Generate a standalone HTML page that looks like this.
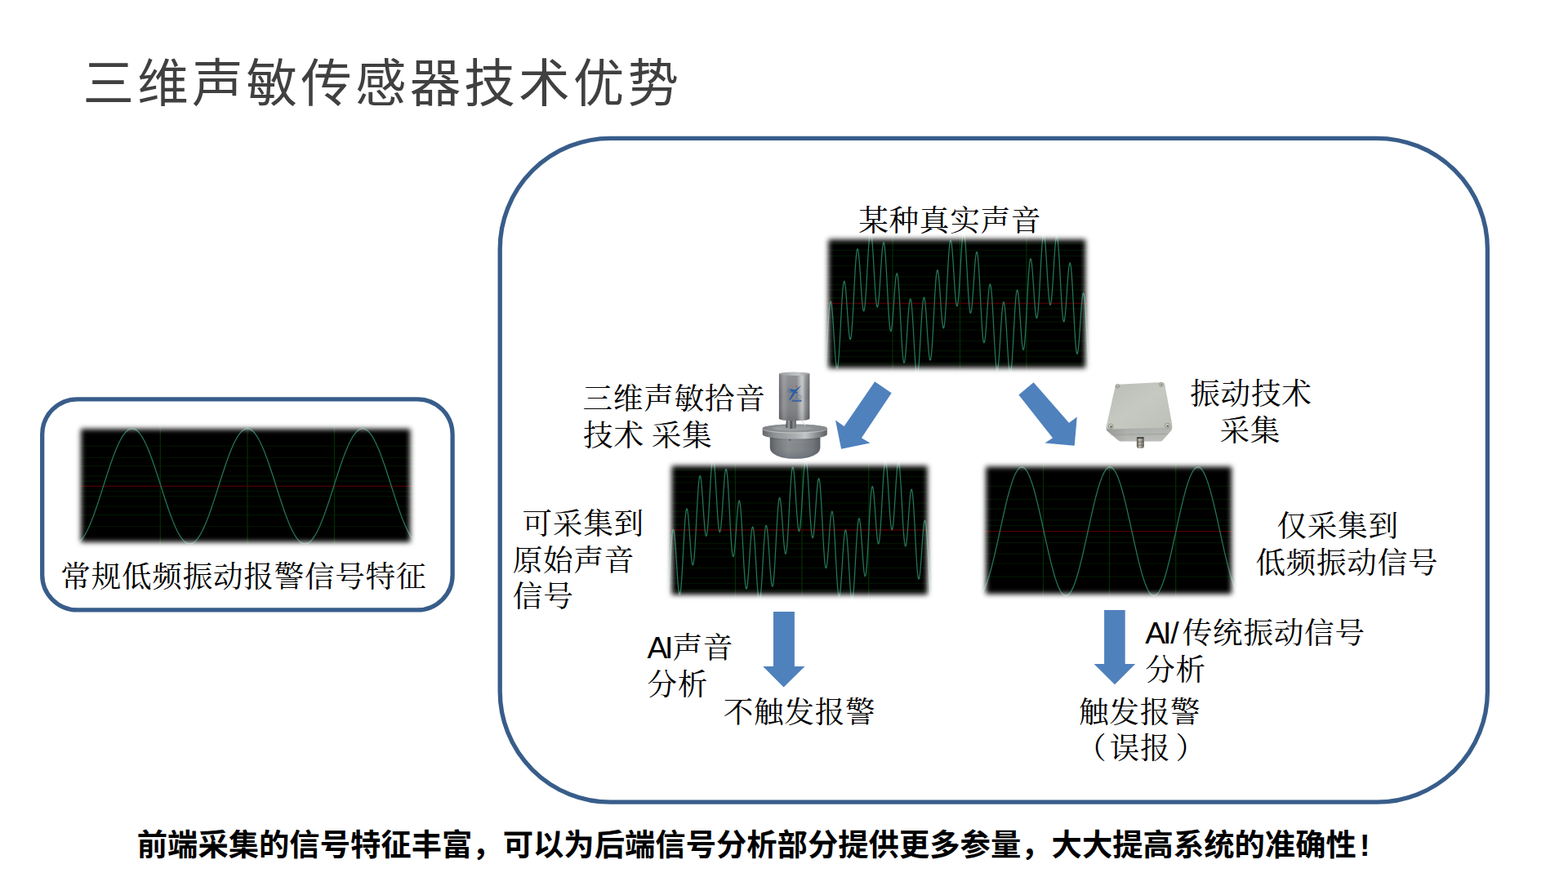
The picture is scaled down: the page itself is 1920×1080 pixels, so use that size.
<!DOCTYPE html>
<html lang="zh-CN"><head><meta charset="utf-8"><title>三维声敏传感器技术优势</title>
<style>
html,body{margin:0;padding:0;background:#fff}
body{width:1920px;height:1080px;position:relative;overflow:hidden;font-family:"Liberation Sans",sans-serif}
svg{position:absolute;left:0;top:0;display:block}
.t{position:absolute;white-space:pre;line-height:1;color:transparent;overflow:hidden;height:1em}
.s{font-family:"Liberation Serif","Noto Serif CJK SC",serif}
.l{font-family:"Liberation Sans","Noto Sans CJK SC",sans-serif;letter-spacing:2px}
.b{font-family:"Liberation Sans","Noto Sans CJK SC",sans-serif;font-weight:bold}
.st{font-family:"Liberation Serif","Noto Serif CJK SC",serif;font-size:36.58px;letter-spacing:0.75px;fill:#000}
.la{font-family:"Liberation Sans","Noto Sans CJK SC",sans-serif;font-size:37.33px;letter-spacing:0}
</style></head><body>
<svg width="1920" height="1080" viewBox="0 0 1920 1080"><defs>
<filter id="soft" x="-5%" y="-5%" width="110%" height="110%"><feGaussianBlur stdDeviation=".45"/></filter>
<linearGradient id="gCyl" x1="0" x2="1" y1="0" y2="0">
 <stop offset="0" stop-color="#5a5d60"/><stop offset=".06" stop-color="#787a7e"/><stop offset=".16" stop-color="#939598"/>
 <stop offset=".32" stop-color="#808285"/><stop offset=".58" stop-color="#828588"/><stop offset=".7" stop-color="#b5b7b8"/><stop offset=".77" stop-color="#c1c2c3"/>
 <stop offset=".86" stop-color="#8c8f92"/><stop offset=".95" stop-color="#707276"/><stop offset="1" stop-color="#5c5e62"/></linearGradient>
<linearGradient id="gCylV" x1="0" x2="0" y1="0" y2="1"><stop offset="0" stop-color="#fff" stop-opacity=".12"/><stop offset=".5" stop-color="#fff" stop-opacity="0"/><stop offset="1" stop-color="#000" stop-opacity=".14"/></linearGradient>
<linearGradient id="gBodyV" x1="0" x2="0" y1="0" y2="1"><stop offset="0" stop-color="#000" stop-opacity=".22"/><stop offset=".3" stop-color="#000" stop-opacity="0"/><stop offset=".65" stop-color="#4a5868" stop-opacity=".05"/><stop offset="1" stop-color="#4a5868" stop-opacity=".4"/></linearGradient>
<linearGradient id="gCylTop" x1="0" x2="1"><stop offset="0" stop-color="#9a9da0"/><stop offset=".65" stop-color="#c4c6c8"/><stop offset="1" stop-color="#909396"/></linearGradient>
<linearGradient id="gNeck" x1="0" x2="1"><stop offset="0" stop-color="#3e4144"/><stop offset=".3" stop-color="#9fa2a5"/><stop offset=".5" stop-color="#4c4f52"/><stop offset=".75" stop-color="#8a8d90"/><stop offset="1" stop-color="#55585b"/></linearGradient>
<linearGradient id="gTop" x1="0" x2="1"><stop offset="0" stop-color="#808285"/><stop offset=".45" stop-color="#989b9d"/><stop offset="1" stop-color="#86898c"/></linearGradient>
<linearGradient id="gRim" x1="0" x2="1"><stop offset="0" stop-color="#64676a"/><stop offset=".2" stop-color="#929598"/><stop offset=".5" stop-color="#aaadaf"/><stop offset=".66" stop-color="#c3c5c6"/><stop offset=".85" stop-color="#86898c"/><stop offset="1" stop-color="#5f6266"/></linearGradient>
<linearGradient id="gBody" x1="0" x2="1"><stop offset="0" stop-color="#5a5e61"/><stop offset=".12" stop-color="#73767a"/><stop offset=".35" stop-color="#8d9092"/><stop offset=".6" stop-color="#85888b"/><stop offset=".85" stop-color="#74777b"/><stop offset="1" stop-color="#5b5f63"/></linearGradient>
<linearGradient id="gFace" x1="0" x2="1" y1="0" y2="1"><stop offset="0" stop-color="#babdb5"/><stop offset=".5" stop-color="#c6c9c1"/><stop offset="1" stop-color="#bcbfb7"/></linearGradient>
<linearGradient id="gSide" x1="0" x2="0" y1="0" y2="1"><stop offset="0" stop-color="#aeb0ac"/><stop offset=".55" stop-color="#b6b8b4"/><stop offset="1" stop-color="#bfc1be"/></linearGradient>
<linearGradient id="gSideH" x1="0" x2="1"><stop offset="0" stop-color="#000" stop-opacity=".16"/><stop offset=".3" stop-color="#000" stop-opacity=".03"/><stop offset="1" stop-color="#000" stop-opacity="0"/></linearGradient>
<linearGradient id="gConn" x1="0" x2="1"><stop offset="0" stop-color="#56544e"/><stop offset=".4" stop-color="#c2beb2"/><stop offset=".7" stop-color="#8e8b82"/><stop offset="1" stop-color="#5c5a54"/></linearGradient>
<mask id="wm1" maskUnits="userSpaceOnUse" x="87.0" y="513.2" width="427.3" height="162.6"><rect x="99.0" y="525.2" width="403.3" height="138.6" fill="#fff" filter="url(#sb1)"/></mask><filter id="sb1" x="-10%" y="-10%" width="120%" height="120%"><feGaussianBlur stdDeviation="3.30"/></filter><mask id="wm2" maskUnits="userSpaceOnUse" x="1002.4" y="281.3" width="338.8" height="181.2"><rect x="1014.4" y="293.3" width="314.8" height="157.2" fill="#fff" filter="url(#sb2)"/></mask><filter id="sb2" x="-10%" y="-10%" width="120%" height="120%"><feGaussianBlur stdDeviation="3.30"/></filter><mask id="wm3" maskUnits="userSpaceOnUse" x="810.5" y="558.5" width="337.2" height="181.6"><rect x="822.5" y="570.5" width="313.2" height="157.6" fill="#fff" filter="url(#sb3)"/></mask><filter id="sb3" x="-10%" y="-10%" width="120%" height="120%"><feGaussianBlur stdDeviation="3.30"/></filter><mask id="wm4" maskUnits="userSpaceOnUse" x="1195.2" y="559.5" width="324.8" height="179.8"><rect x="1207.2" y="571.5" width="300.8" height="155.8" fill="#fff" filter="url(#sb4)"/></mask><filter id="sb4" x="-10%" y="-10%" width="120%" height="120%"><feGaussianBlur stdDeviation="3.30"/></filter></defs>
<rect x="612.2" y="169.3" width="1209.2" height="812.9" rx="135.5" ry="135.5" fill="none" stroke="#385d8a" stroke-width="5.3"/>
<rect x="51.7" y="488.9" width="502.4" height="258.0" rx="43" ry="43" fill="none" stroke="#385d8a" stroke-width="5.3"/><g mask="url(#wm1)"><rect x="91.0" y="517.2" width="419.3" height="154.6" fill="#000"/><path d="M91.0 589.2H510.3 M91.0 601.6H510.3 M91.0 583.1H510.3 M91.0 607.7H510.3 M91.0 570.7H510.3 M91.0 620.1H510.3 M91.0 560.3H510.3 M91.0 630.5H510.3 M91.0 546.2H510.3 M91.0 644.6H510.3" stroke="#021302" stroke-width="1.3" fill="none"/><path d="M196.3 517.2V671.8 M303.0 517.2V671.8 M409.5 517.2V671.8" stroke="#022c02" stroke-width="1.3" fill="none"/><path d="M91.0 595.4H510.3" stroke="#4c0000" stroke-width="1.3" fill="none"/><path d="M91.0 665.9 L91.5 665.9 L92.0 665.9 L92.5 665.8 L93.0 665.7 L93.5 665.5 L94.0 665.4 L94.5 665.2 L95.0 664.9 L95.5 664.6 L96.0 664.3 L96.5 664.0 L97.0 663.6 L97.5 663.2 L98.0 662.7 L98.5 662.3 L99.0 661.7 L99.5 661.2 L100.0 660.6 L100.5 660.0 L101.0 659.4 L101.5 658.7 L102.0 658.0 L102.5 657.2 L103.0 656.5 L103.5 655.7 L104.0 654.8 L104.5 654.0 L105.0 653.1 L105.5 652.2 L106.0 651.2 L106.5 650.3 L107.0 649.3 L107.5 648.2 L108.0 647.2 L108.5 646.1 L109.0 645.0 L109.5 643.9 L110.0 642.7 L110.5 641.5 L111.0 640.3 L111.5 639.1 L112.0 637.9 L112.5 636.6 L113.0 635.3 L113.5 634.0 L114.0 632.7 L114.5 631.4 L115.0 630.0 L115.5 628.6 L116.0 627.2 L116.5 625.8 L117.0 624.4 L117.5 623.0 L118.0 621.5 L118.5 620.1 L119.0 618.6 L119.5 617.1 L120.0 615.6 L120.5 614.1 L121.0 612.6 L121.5 611.0 L122.0 609.5 L122.5 608.0 L123.0 606.4 L123.5 604.9 L124.0 603.3 L124.5 601.7 L125.0 600.2 L125.5 598.6 L126.0 597.0 L126.5 595.5 L127.0 593.9 L127.5 592.3 L128.0 590.8 L128.5 589.2 L129.0 587.6 L129.5 586.1 L130.0 584.5 L130.5 583.0 L131.0 581.4 L131.5 579.9 L132.0 578.4 L132.5 576.9 L133.0 575.4 L133.5 573.9 L134.0 572.4 L134.5 570.9 L135.0 569.4 L135.5 568.0 L136.0 566.5 L136.5 565.1 L137.0 563.7 L137.5 562.3 L138.0 560.9 L138.5 559.6 L139.0 558.2 L139.5 556.9 L140.0 555.6 L140.5 554.3 L141.0 553.0 L141.5 551.8 L142.0 550.6 L142.5 549.4 L143.0 548.2 L143.5 547.0 L144.0 545.9 L144.5 544.8 L145.0 543.7 L145.5 542.7 L146.0 541.6 L146.5 540.6 L147.0 539.7 L147.5 538.7 L148.0 537.8 L148.5 536.9 L149.0 536.0 L149.5 535.2 L150.0 534.4 L150.5 533.6 L151.0 532.9 L151.5 532.2 L152.0 531.5 L152.5 530.9 L153.0 530.2 L153.5 529.7 L154.0 529.1 L154.5 528.6 L155.0 528.1 L155.5 527.7 L156.0 527.2 L156.5 526.9 L157.0 526.5 L157.5 526.2 L158.0 525.9 L158.5 525.7 L159.0 525.4 L159.5 525.3 L160.0 525.1 L160.5 525.0 L161.0 524.9 L161.5 524.9 L162.0 524.9 L162.5 524.9 L163.0 525.0 L163.5 525.1 L164.0 525.2 L164.5 525.4 L165.0 525.6 L165.5 525.9 L166.0 526.1 L166.5 526.4 L167.0 526.8 L167.5 527.2 L168.0 527.6 L168.5 528.0 L169.0 528.5 L169.5 529.0 L170.0 529.5 L170.5 530.1 L171.0 530.7 L171.5 531.4 L172.0 532.0 L172.5 532.8 L173.0 533.5 L173.5 534.3 L174.0 535.1 L174.5 535.9 L175.0 536.7 L175.5 537.6 L176.0 538.5 L176.5 539.5 L177.0 540.4 L177.5 541.4 L178.0 542.5 L178.5 543.5 L179.0 544.6 L179.5 545.7 L180.0 546.8 L180.5 548.0 L181.0 549.1 L181.5 550.3 L182.0 551.5 L182.5 552.8 L183.0 554.1 L183.5 555.3 L184.0 556.6 L184.5 558.0 L185.0 559.3 L185.5 560.6 L186.0 562.0 L186.5 563.4 L187.0 564.8 L187.5 566.2 L188.0 567.7 L188.5 569.1 L189.0 570.6 L189.5 572.1 L190.0 573.6 L190.5 575.1 L191.0 576.6 L191.5 578.1 L192.0 579.6 L192.5 581.1 L193.0 582.7 L193.5 584.2 L194.0 585.8 L194.5 587.3 L195.0 588.9 L195.5 590.5 L196.0 592.0 L196.5 593.6 L197.0 595.2 L197.5 596.7 L198.0 598.3 L198.5 599.9 L199.0 601.4 L199.5 603.0 L200.0 604.6 L200.5 606.1 L201.0 607.7 L201.5 609.2 L202.0 610.7 L202.5 612.3 L203.0 613.8 L203.5 615.3 L204.0 616.8 L204.5 618.3 L205.0 619.8 L205.5 621.2 L206.0 622.7 L206.5 624.1 L207.0 625.6 L207.5 627.0 L208.0 628.4 L208.5 629.7 L209.0 631.1 L209.5 632.4 L210.0 633.8 L210.5 635.1 L211.0 636.4 L211.5 637.6 L212.0 638.9 L212.5 640.1 L213.0 641.3 L213.5 642.5 L214.0 643.6 L214.5 644.8 L215.0 645.9 L215.5 647.0 L216.0 648.0 L216.5 649.1 L217.0 650.1 L217.5 651.0 L218.0 652.0 L218.5 652.9 L219.0 653.8 L219.5 654.7 L220.0 655.5 L220.5 656.3 L221.0 657.1 L221.5 657.8 L222.0 658.5 L222.5 659.2 L223.0 659.9 L223.5 660.5 L224.0 661.1 L224.5 661.6 L225.0 662.2 L225.5 662.6 L226.0 663.1 L226.5 663.5 L227.0 663.9 L227.5 664.3 L228.0 664.6 L228.5 664.9 L229.0 665.1 L229.5 665.3 L230.0 665.5 L230.5 665.7 L231.0 665.8 L231.5 665.8 L232.0 665.9 L232.5 665.9 L233.0 665.9 L233.5 665.8 L234.0 665.7 L234.5 665.6 L235.0 665.4 L235.5 665.2 L236.0 665.0 L236.5 664.7 L237.0 664.4 L237.5 664.1 L238.0 663.7 L238.5 663.3 L239.0 662.8 L239.5 662.4 L240.0 661.8 L240.5 661.3 L241.0 660.7 L241.5 660.1 L242.0 659.5 L242.5 658.8 L243.0 658.1 L243.5 657.4 L244.0 656.6 L244.5 655.8 L245.0 655.0 L245.5 654.2 L246.0 653.3 L246.5 652.4 L247.0 651.4 L247.5 650.5 L248.0 649.5 L248.5 648.4 L249.0 647.4 L249.5 646.3 L250.0 645.2 L250.5 644.1 L251.0 643.0 L251.5 641.8 L252.0 640.6 L252.5 639.4 L253.0 638.1 L253.5 636.9 L254.0 635.6 L254.5 634.3 L255.0 633.0 L255.5 631.6 L256.0 630.3 L256.5 628.9 L257.0 627.5 L257.5 626.1 L258.0 624.7 L258.5 623.3 L259.0 621.8 L259.5 620.4 L260.0 618.9 L260.5 617.4 L261.0 615.9 L261.5 614.4 L262.0 612.9 L262.5 611.3 L263.0 609.8 L263.5 608.3 L264.0 606.7 L264.5 605.2 L265.0 603.6 L265.5 602.1 L266.0 600.5 L266.5 598.9 L267.0 597.4 L267.5 595.8 L268.0 594.2 L268.5 592.7 L269.0 591.1 L269.5 589.5 L270.0 588.0 L270.5 586.4 L271.0 584.8 L271.5 583.3 L272.0 581.8 L272.5 580.2 L273.0 578.7 L273.5 577.2 L274.0 575.7 L274.5 574.2 L275.0 572.7 L275.5 571.2 L276.0 569.7 L276.5 568.3 L277.0 566.8 L277.5 565.4 L278.0 564.0 L278.5 562.6 L279.0 561.2 L279.5 559.8 L280.0 558.5 L280.5 557.2 L281.0 555.8 L281.5 554.6 L282.0 553.3 L282.5 552.0 L283.0 550.8 L283.5 549.6 L284.0 548.4 L284.5 547.3 L285.0 546.1 L285.5 545.0 L286.0 543.9 L286.5 542.9 L287.0 541.8 L287.5 540.8 L288.0 539.9 L288.5 538.9 L289.0 538.0 L289.5 537.1 L290.0 536.2 L290.5 535.4 L291.0 534.6 L291.5 533.8 L292.0 533.0 L292.5 532.3 L293.0 531.6 L293.5 531.0 L294.0 530.4 L294.5 529.8 L295.0 529.2 L295.5 528.7 L296.0 528.2 L296.5 527.7 L297.0 527.3 L297.5 526.9 L298.0 526.6 L298.5 526.2 L299.0 526.0 L299.5 525.7 L300.0 525.5 L300.5 525.3 L301.0 525.2 L301.5 525.0 L302.0 525.0 L302.5 524.9 L303.0 524.9 L303.5 524.9 L304.0 525.0 L304.5 525.1 L305.0 525.2 L305.5 525.4 L306.0 525.6 L306.5 525.8 L307.0 526.1 L307.5 526.4 L308.0 526.7 L308.5 527.1 L309.0 527.5 L309.5 527.9 L310.0 528.4 L310.5 528.9 L311.0 529.4 L311.5 530.0 L312.0 530.6 L312.5 531.2 L313.0 531.9 L313.5 532.6 L314.0 533.3 L314.5 534.1 L315.0 534.9 L315.5 535.7 L316.0 536.6 L316.5 537.4 L317.0 538.3 L317.5 539.3 L318.0 540.2 L318.5 541.2 L319.0 542.3 L319.5 543.3 L320.0 544.4 L320.5 545.5 L321.0 546.6 L321.5 547.7 L322.0 548.9 L322.5 550.1 L323.0 551.3 L323.5 552.5 L324.0 553.8 L324.5 555.1 L325.0 556.4 L325.5 557.7 L326.0 559.0 L326.5 560.4 L327.0 561.7 L327.5 563.1 L328.0 564.5 L328.5 566.0 L329.0 567.4 L329.5 568.8 L330.0 570.3 L330.5 571.8 L331.0 573.3 L331.5 574.8 L332.0 576.3 L332.5 577.8 L333.0 579.3 L333.5 580.8 L334.0 582.4 L334.5 583.9 L335.0 585.5 L335.5 587.0 L336.0 588.6 L336.5 590.1 L337.0 591.7 L337.5 593.3 L338.0 594.9 L338.5 596.4 L339.0 598.0 L339.5 599.6 L340.0 601.1 L340.5 602.7 L341.0 604.2 L341.5 605.8 L342.0 607.4 L342.5 608.9 L343.0 610.4 L343.5 612.0 L344.0 613.5 L344.5 615.0 L345.0 616.5 L345.5 618.0 L346.0 619.5 L346.5 620.9 L347.0 622.4 L347.5 623.8 L348.0 625.3 L348.5 626.7 L349.0 628.1 L349.5 629.5 L350.0 630.8 L350.5 632.2 L351.0 633.5 L351.5 634.8 L352.0 636.1 L352.5 637.4 L353.0 638.6 L353.5 639.9 L354.0 641.1 L354.5 642.3 L355.0 643.4 L355.5 644.6 L356.0 645.7 L356.5 646.8 L357.0 647.8 L357.5 648.9 L358.0 649.9 L358.5 650.8 L359.0 651.8 L359.5 652.7 L360.0 653.6 L360.5 654.5 L361.0 655.3 L361.5 656.2 L362.0 656.9 L362.5 657.7 L363.0 658.4 L363.5 659.1 L364.0 659.7 L364.5 660.4 L365.0 661.0 L365.5 661.5 L366.0 662.1 L366.5 662.6 L367.0 663.0 L367.5 663.4 L368.0 663.8 L368.5 664.2 L369.0 664.5 L369.5 664.8 L370.0 665.1 L370.5 665.3 L371.0 665.5 L371.5 665.6 L372.0 665.8 L372.5 665.8 L373.0 665.9 L373.5 665.9 L374.0 665.9 L374.5 665.8 L375.0 665.7 L375.5 665.6 L376.0 665.4 L376.5 665.3 L377.0 665.0 L377.5 664.8 L378.0 664.5 L378.5 664.1 L379.0 663.8 L379.5 663.4 L380.0 662.9 L380.5 662.5 L381.0 662.0 L381.5 661.4 L382.0 660.9 L382.5 660.3 L383.0 659.6 L383.5 659.0 L384.0 658.3 L384.5 657.5 L385.0 656.8 L385.5 656.0 L386.0 655.2 L386.5 654.3 L387.0 653.5 L387.5 652.5 L388.0 651.6 L388.5 650.7 L389.0 649.7 L389.5 648.6 L390.0 647.6 L390.5 646.5 L391.0 645.4 L391.5 644.3 L392.0 643.2 L392.5 642.0 L393.0 640.8 L393.5 639.6 L394.0 638.4 L394.5 637.1 L395.0 635.9 L395.5 634.6 L396.0 633.2 L396.5 631.9 L397.0 630.6 L397.5 629.2 L398.0 627.8 L398.5 626.4 L399.0 625.0 L399.5 623.6 L400.0 622.1 L400.5 620.6 L401.0 619.2 L401.5 617.7 L402.0 616.2 L402.5 614.7 L403.0 613.2 L403.5 611.7 L404.0 610.1 L404.5 608.6 L405.0 607.0 L405.5 605.5 L406.0 603.9 L406.5 602.4 L407.0 600.8 L407.5 599.2 L408.0 597.7 L408.5 596.1 L409.0 594.5 L409.5 593.0 L410.0 591.4 L410.5 589.8 L411.0 588.3 L411.5 586.7 L412.0 585.2 L412.5 583.6 L413.0 582.1 L413.5 580.5 L414.0 579.0 L414.5 577.5 L415.0 576.0 L415.5 574.5 L416.0 573.0 L416.5 571.5 L417.0 570.0 L417.5 568.5 L418.0 567.1 L418.5 565.7 L419.0 564.3 L419.5 562.9 L420.0 561.5 L420.5 560.1 L421.0 558.8 L421.5 557.4 L422.0 556.1 L422.5 554.8 L423.0 553.5 L423.5 552.3 L424.0 551.1 L424.5 549.9 L425.0 548.7 L425.5 547.5 L426.0 546.4 L426.5 545.2 L427.0 544.2 L427.5 543.1 L428.0 542.0 L428.5 541.0 L429.0 540.1 L429.5 539.1 L430.0 538.2 L430.5 537.3 L431.0 536.4 L431.5 535.5 L432.0 534.7 L432.5 533.9 L433.0 533.2 L433.5 532.5 L434.0 531.8 L434.5 531.1 L435.0 530.5 L435.5 529.9 L436.0 529.3 L436.5 528.8 L437.0 528.3 L437.5 527.8 L438.0 527.4 L438.5 527.0 L439.0 526.6 L439.5 526.3 L440.0 526.0 L440.5 525.8 L441.0 525.5 L441.5 525.3 L442.0 525.2 L442.5 525.1 L443.0 525.0 L443.5 524.9 L444.0 524.9 L444.5 524.9 L445.0 525.0 L445.5 525.1 L446.0 525.2 L446.5 525.3 L447.0 525.5 L447.5 525.8 L448.0 526.0 L448.5 526.3 L449.0 526.6 L449.5 527.0 L450.0 527.4 L450.5 527.8 L451.0 528.3 L451.5 528.8 L452.0 529.3 L452.5 529.9 L453.0 530.5 L453.5 531.1 L454.0 531.8 L454.5 532.5 L455.0 533.2 L455.5 533.9 L456.0 534.7 L456.5 535.5 L457.0 536.4 L457.5 537.3 L458.0 538.2 L458.5 539.1 L459.0 540.1 L459.5 541.0 L460.0 542.0 L460.5 543.1 L461.0 544.2 L461.5 545.2 L462.0 546.4 L462.5 547.5 L463.0 548.7 L463.5 549.9 L464.0 551.1 L464.5 552.3 L465.0 553.5 L465.5 554.8 L466.0 556.1 L466.5 557.4 L467.0 558.8 L467.5 560.1 L468.0 561.5 L468.5 562.9 L469.0 564.3 L469.5 565.7 L470.0 567.1 L470.5 568.5 L471.0 570.0 L471.5 571.5 L472.0 573.0 L472.5 574.5 L473.0 576.0 L473.5 577.5 L474.0 579.0 L474.5 580.5 L475.0 582.1 L475.5 583.6 L476.0 585.2 L476.5 586.7 L477.0 588.3 L477.5 589.8 L478.0 591.4 L478.5 593.0 L479.0 594.5 L479.5 596.1 L480.0 597.7 L480.5 599.2 L481.0 600.8 L481.5 602.4 L482.0 603.9 L482.5 605.5 L483.0 607.0 L483.5 608.6 L484.0 610.1 L484.5 611.7 L485.0 613.2 L485.5 614.7 L486.0 616.2 L486.5 617.7 L487.0 619.2 L487.5 620.6 L488.0 622.1 L488.5 623.6 L489.0 625.0 L489.5 626.4 L490.0 627.8 L490.5 629.2 L491.0 630.6 L491.5 631.9 L492.0 633.2 L492.5 634.6 L493.0 635.9 L493.5 637.1 L494.0 638.4 L494.5 639.6 L495.0 640.8 L495.5 642.0 L496.0 643.2 L496.5 644.3 L497.0 645.4 L497.5 646.5 L498.0 647.6 L498.5 648.6 L499.0 649.7 L499.5 650.7 L500.0 651.6 L500.5 652.5 L501.0 653.5 L501.5 654.3 L502.0 655.2 L502.5 656.0 L503.0 656.8 L503.5 657.5 L504.0 658.3 L504.5 659.0 L505.0 659.6 L505.5 660.3 L506.0 660.9 L506.5 661.4 L507.0 662.0 L507.5 662.5 L508.0 662.9 L508.5 663.4 L509.0 663.8 L509.5 664.1 L510.0 664.5" stroke="#24775a" stroke-width="1.25" fill="none" stroke-linejoin="round"/></g><g mask="url(#wm2)"><rect x="1006.4" y="285.3" width="330.8" height="173.2" fill="#000"/><path d="M1006.4 298.4H1337.2 M1006.4 444.6H1337.2 M1006.4 306.3H1337.2 M1006.4 436.7H1337.2 M1006.4 313.3H1337.2 M1006.4 429.7H1337.2 M1006.4 325.4H1337.2 M1006.4 417.6H1337.2 M1006.4 338.8H1337.2 M1006.4 404.2H1337.2 M1006.4 348.7H1337.2 M1006.4 394.3H1337.2 M1006.4 355.0H1337.2 M1006.4 388.0H1337.2 M1006.4 365.0H1337.2 M1006.4 378.0H1337.2" stroke="#021302" stroke-width="1.3" fill="none"/><path d="M1093.0 285.3V458.5 M1175.5 285.3V458.5 M1257.0 285.3V458.5" stroke="#022c02" stroke-width="1.3" fill="none"/><path d="M1006.4 371.5H1337.2" stroke="#4c0000" stroke-width="1.3" fill="none"/><path d="M1006.4 436.4 L1006.9 443.7 L1007.4 449.7 L1007.9 454.4 L1008.4 457.4 L1008.9 458.8 L1009.4 458.4 L1009.9 456.4 L1010.4 452.8 L1010.9 447.7 L1011.4 441.4 L1011.9 434.0 L1012.4 425.9 L1012.9 417.3 L1013.4 408.7 L1013.9 400.2 L1014.4 392.3 L1014.9 385.1 L1015.4 379.1 L1015.9 374.3 L1016.4 371.0 L1016.9 369.3 L1017.4 369.2 L1017.9 370.8 L1018.4 373.9 L1018.9 378.5 L1019.4 384.3 L1019.9 391.1 L1020.4 398.7 L1020.9 406.7 L1021.4 414.9 L1021.9 422.9 L1022.4 430.5 L1022.9 437.2 L1023.4 442.8 L1023.9 447.2 L1024.4 450.1 L1024.9 451.3 L1025.4 450.9 L1025.9 448.8 L1026.4 445.0 L1026.9 439.6 L1027.4 432.9 L1027.9 425.0 L1028.4 416.3 L1028.9 406.9 L1029.4 397.2 L1029.9 387.6 L1030.4 378.3 L1030.9 369.6 L1031.4 361.9 L1031.9 355.4 L1032.4 350.2 L1032.9 346.6 L1033.4 344.6 L1033.9 344.3 L1034.4 345.7 L1034.9 348.5 L1035.4 352.8 L1035.9 358.2 L1036.4 364.6 L1036.9 371.7 L1037.4 379.1 L1037.9 386.5 L1038.4 393.7 L1038.9 400.3 L1039.4 406.0 L1039.9 410.6 L1040.4 413.8 L1040.9 415.5 L1041.4 415.6 L1041.9 414.0 L1042.4 410.8 L1042.9 405.9 L1043.4 399.6 L1043.9 392.1 L1044.4 383.5 L1044.9 374.1 L1045.4 364.4 L1045.9 354.4 L1046.4 344.7 L1046.9 335.5 L1047.4 327.0 L1047.9 319.7 L1048.4 313.6 L1048.9 309.0 L1049.4 306.1 L1049.9 304.8 L1050.4 305.2 L1050.9 307.3 L1051.4 310.9 L1051.9 315.8 L1052.4 321.9 L1052.9 328.8 L1053.4 336.3 L1053.9 344.1 L1054.4 351.8 L1054.9 359.2 L1055.4 365.8 L1055.9 371.5 L1056.4 376.1 L1056.9 379.2 L1057.4 380.8 L1057.9 380.7 L1058.4 379.0 L1058.9 375.7 L1059.4 370.9 L1059.9 364.8 L1060.4 357.5 L1060.9 349.3 L1061.4 340.4 L1061.9 331.3 L1062.4 322.2 L1062.9 313.5 L1063.4 305.3 L1063.9 298.2 L1064.4 292.2 L1064.9 287.6 L1065.4 284.6 L1065.9 283.3 L1066.4 283.6 L1066.9 285.7 L1067.4 289.4 L1067.9 294.5 L1068.4 301.0 L1068.9 308.4 L1069.4 316.7 L1069.9 325.4 L1070.4 334.3 L1070.9 343.0 L1071.4 351.2 L1071.9 358.6 L1072.4 365.0 L1072.9 370.1 L1073.4 373.7 L1073.9 375.8 L1074.4 376.2 L1074.9 375.0 L1075.4 372.3 L1075.9 368.1 L1076.4 362.5 L1076.9 356.0 L1077.4 348.7 L1077.9 340.8 L1078.4 332.8 L1078.9 324.9 L1079.4 317.5 L1079.9 310.9 L1080.4 305.3 L1080.9 300.9 L1081.4 298.1 L1081.9 296.8 L1082.4 297.2 L1082.9 299.3 L1083.4 303.1 L1083.9 308.4 L1084.4 315.1 L1084.9 323.0 L1085.4 331.8 L1085.9 341.3 L1086.4 351.1 L1086.9 360.9 L1087.4 370.3 L1087.9 379.1 L1088.4 387.1 L1088.9 393.8 L1089.4 399.2 L1089.9 403.0 L1090.4 405.2 L1090.9 405.8 L1091.4 404.7 L1091.9 402.0 L1092.4 398.0 L1092.9 392.7 L1093.4 386.4 L1093.9 379.4 L1094.4 372.1 L1094.9 364.6 L1095.4 357.4 L1095.9 350.8 L1096.4 344.9 L1096.9 340.2 L1097.4 336.9 L1097.9 335.0 L1098.4 334.7 L1098.9 336.1 L1099.4 339.2 L1099.9 343.8 L1100.4 350.0 L1100.9 357.3 L1101.4 365.8 L1101.9 375.0 L1102.4 384.7 L1102.9 394.6 L1103.4 404.3 L1103.9 413.5 L1104.4 421.9 L1104.9 429.3 L1105.4 435.4 L1105.9 440.0 L1106.4 443.0 L1106.9 444.3 L1107.4 444.0 L1107.9 441.9 L1108.4 438.4 L1108.9 433.4 L1109.4 427.4 L1109.9 420.4 L1110.4 412.7 L1110.9 404.8 L1111.4 396.9 L1111.9 389.4 L1112.4 382.5 L1112.9 376.5 L1113.4 371.7 L1113.9 368.2 L1114.4 366.3 L1114.9 366.0 L1115.4 367.4 L1115.9 370.3 L1116.4 374.8 L1116.9 380.6 L1117.4 387.7 L1117.9 395.6 L1118.4 404.2 L1118.9 413.1 L1119.4 422.0 L1119.9 430.6 L1120.4 438.6 L1120.9 445.7 L1121.4 451.6 L1121.9 456.1 L1122.4 459.1 L1122.9 460.4 L1123.4 460.0 L1123.9 457.9 L1124.4 454.2 L1124.9 449.0 L1125.4 442.4 L1125.9 434.8 L1126.4 426.4 L1126.9 417.6 L1127.4 408.5 L1127.9 399.6 L1128.4 391.1 L1128.9 383.4 L1129.4 376.7 L1129.9 371.3 L1130.4 367.3 L1130.9 364.9 L1131.4 364.1 L1131.9 364.9 L1132.4 367.4 L1132.9 371.3 L1133.4 376.5 L1133.9 382.8 L1134.4 389.9 L1134.9 397.5 L1135.4 405.4 L1135.9 413.1 L1136.4 420.4 L1136.9 427.0 L1137.4 432.6 L1137.9 436.9 L1138.4 439.8 L1138.9 441.1 L1139.4 440.7 L1139.9 438.7 L1140.4 434.9 L1140.9 429.7 L1141.4 423.0 L1141.9 415.1 L1142.4 406.2 L1142.9 396.7 L1143.4 386.9 L1143.9 377.0 L1144.4 367.4 L1144.9 358.5 L1145.4 350.4 L1145.9 343.4 L1146.4 337.9 L1146.9 333.8 L1147.4 331.4 L1147.9 330.6 L1148.4 331.6 L1148.9 334.0 L1149.4 338.0 L1149.9 343.1 L1150.4 349.3 L1150.9 356.2 L1151.4 363.6 L1151.9 371.0 L1152.4 378.3 L1152.9 385.0 L1153.4 391.0 L1153.9 395.8 L1154.4 399.4 L1154.9 401.4 L1155.4 401.9 L1155.9 400.7 L1156.4 397.9 L1156.9 393.5 L1157.4 387.6 L1157.9 380.4 L1158.4 372.1 L1158.9 363.1 L1159.4 353.5 L1159.9 343.7 L1160.4 334.1 L1160.9 325.0 L1161.4 316.5 L1161.9 309.2 L1162.4 303.1 L1162.9 298.4 L1163.4 295.4 L1163.9 294.0 L1164.4 294.4 L1164.9 296.4 L1165.4 299.9 L1165.9 304.9 L1166.4 311.0 L1166.9 318.1 L1167.4 325.9 L1167.9 333.9 L1168.4 342.0 L1168.9 349.8 L1169.4 356.9 L1169.9 363.2 L1170.4 368.3 L1170.9 372.1 L1171.4 374.4 L1171.9 375.0 L1172.4 374.0 L1172.9 371.4 L1173.4 367.3 L1173.9 361.8 L1174.4 355.1 L1174.9 347.4 L1175.4 339.1 L1175.9 330.4 L1176.4 321.7 L1176.9 313.2 L1177.4 305.4 L1177.9 298.4 L1178.4 292.5 L1178.9 288.1 L1179.4 285.2 L1179.9 283.9 L1180.4 284.3 L1180.9 286.4 L1181.4 290.2 L1181.9 295.5 L1182.4 302.1 L1182.9 309.8 L1183.4 318.3 L1183.9 327.3 L1184.4 336.6 L1184.9 345.7 L1185.4 354.5 L1185.9 362.4 L1186.4 369.4 L1186.9 375.2 L1187.4 379.5 L1187.9 382.2 L1188.4 383.4 L1188.9 382.8 L1189.4 380.7 L1189.9 377.1 L1190.4 372.2 L1190.9 366.1 L1191.4 359.2 L1191.9 351.8 L1192.4 344.1 L1192.9 336.4 L1193.4 329.2 L1193.9 322.6 L1194.4 317.1 L1194.9 312.7 L1195.4 309.8 L1195.9 308.4 L1196.4 308.7 L1196.9 310.7 L1197.4 314.4 L1197.9 319.6 L1198.4 326.2 L1198.9 334.1 L1199.4 342.9 L1199.9 352.4 L1200.4 362.3 L1200.9 372.3 L1201.4 381.9 L1201.9 391.0 L1202.4 399.2 L1202.9 406.3 L1203.4 412.1 L1203.9 416.3 L1204.4 418.9 L1204.9 419.8 L1205.4 419.1 L1205.9 416.7 L1206.4 412.9 L1206.9 407.9 L1207.4 401.7 L1207.9 394.9 L1208.4 387.5 L1208.9 380.0 L1209.4 372.6 L1209.9 365.8 L1210.4 359.7 L1210.9 354.7 L1211.4 350.9 L1211.9 348.6 L1212.4 347.9 L1212.9 348.8 L1213.4 351.4 L1213.9 355.5 L1214.4 361.2 L1214.9 368.2 L1215.4 376.2 L1215.9 385.1 L1216.4 394.5 L1216.9 404.1 L1217.4 413.6 L1217.9 422.7 L1218.4 431.1 L1218.9 438.4 L1219.4 444.5 L1219.9 449.2 L1220.4 452.2 L1220.9 453.6 L1221.4 453.3 L1221.9 451.3 L1222.4 447.7 L1222.9 442.7 L1223.4 436.4 L1223.9 429.3 L1224.4 421.4 L1224.9 413.2 L1225.4 404.9 L1225.9 396.9 L1226.4 389.4 L1226.9 382.9 L1227.4 377.4 L1227.9 373.3 L1228.4 370.7 L1228.9 369.7 L1229.4 370.3 L1229.9 372.5 L1230.4 376.3 L1230.9 381.5 L1231.4 387.9 L1231.9 395.3 L1232.4 403.3 L1232.9 411.8 L1233.4 420.3 L1233.9 428.6 L1234.4 436.4 L1234.9 443.3 L1235.4 449.0 L1235.9 453.4 L1236.4 456.3 L1236.9 457.6 L1237.4 457.1 L1237.9 454.9 L1238.4 451.1 L1238.9 445.8 L1239.4 439.2 L1239.9 431.4 L1240.4 422.7 L1240.9 413.6 L1241.4 404.1 L1241.9 394.8 L1242.4 385.8 L1242.9 377.6 L1243.4 370.4 L1243.9 364.3 L1244.4 359.7 L1244.9 356.6 L1245.4 355.2 L1245.9 355.4 L1246.4 357.2 L1246.9 360.6 L1247.4 365.2 L1247.9 371.1 L1248.4 377.8 L1248.9 385.1 L1249.4 392.6 L1249.9 400.2 L1250.4 407.4 L1250.9 413.9 L1251.4 419.5 L1251.9 423.9 L1252.4 426.9 L1252.9 428.3 L1253.4 428.1 L1253.9 426.2 L1254.4 422.7 L1254.9 417.6 L1255.4 411.0 L1255.9 403.2 L1256.4 394.4 L1256.9 385.0 L1257.4 375.1 L1257.9 365.1 L1258.4 355.4 L1258.9 346.2 L1259.4 337.9 L1259.9 330.7 L1260.4 324.8 L1260.9 320.5 L1261.4 317.7 L1261.9 316.7 L1262.4 317.3 L1262.9 319.5 L1263.4 323.2 L1263.9 328.2 L1264.4 334.3 L1264.9 341.2 L1265.4 348.5 L1265.9 356.1 L1266.4 363.6 L1266.9 370.6 L1267.4 376.9 L1267.9 382.1 L1268.4 386.1 L1268.9 388.7 L1269.4 389.7 L1269.9 389.0 L1270.4 386.7 L1270.9 382.8 L1271.4 377.4 L1271.9 370.7 L1272.4 362.9 L1272.9 354.3 L1273.4 345.0 L1273.9 335.6 L1274.4 326.2 L1274.9 317.2 L1275.4 308.9 L1275.9 301.6 L1276.4 295.5 L1276.9 290.9 L1277.4 287.9 L1277.9 286.5 L1278.4 286.9 L1278.9 288.9 L1279.4 292.5 L1279.9 297.6 L1280.4 303.9 L1280.9 311.2 L1281.4 319.2 L1281.9 327.6 L1282.4 336.1 L1282.9 344.3 L1283.4 352.0 L1283.9 358.9 L1284.4 364.7 L1284.9 369.1 L1285.4 372.1 L1285.9 373.5 L1286.4 373.2 L1286.9 371.4 L1287.4 367.9 L1287.9 363.1 L1288.4 357.0 L1288.9 349.9 L1289.4 342.1 L1289.9 333.9 L1290.4 325.5 L1290.9 317.4 L1291.4 309.8 L1291.9 303.0 L1292.4 297.3 L1292.9 292.9 L1293.4 290.1 L1293.9 288.9 L1294.4 289.3 L1294.9 291.5 L1295.4 295.3 L1295.9 300.7 L1296.4 307.4 L1296.9 315.2 L1297.4 324.0 L1297.9 333.3 L1298.4 342.8 L1298.9 352.4 L1299.4 361.5 L1299.9 370.0 L1300.4 377.5 L1300.9 383.8 L1301.4 388.7 L1301.9 392.0 L1302.4 393.8 L1302.9 393.8 L1303.4 392.3 L1303.9 389.2 L1304.4 384.8 L1304.9 379.1 L1305.4 372.6 L1305.9 365.5 L1306.4 358.0 L1306.9 350.5 L1307.4 343.3 L1307.9 336.8 L1308.4 331.1 L1308.9 326.7 L1309.4 323.6 L1309.9 322.0 L1310.4 322.1 L1310.9 323.9 L1311.4 327.3 L1311.9 332.3 L1312.4 338.7 L1312.9 346.4 L1313.4 355.1 L1313.9 364.5 L1314.4 374.4 L1314.9 384.3 L1315.4 394.1 L1315.9 403.3 L1316.4 411.7 L1316.9 419.0 L1317.4 424.9 L1317.9 429.4 L1318.4 432.3 L1318.9 433.4 L1319.4 432.9 L1319.9 430.8 L1320.4 427.1 L1320.9 422.2 L1321.4 416.1 L1321.9 409.2 L1322.4 401.7 L1322.9 394.1 L1323.4 386.5 L1323.9 379.3 L1324.4 372.8 L1324.9 367.3 L1325.4 363.1 L1325.9 360.2 L1326.4 358.9 L1326.9 359.3 L1327.4 361.3 L1327.9 364.8 L1328.4 369.9 L1328.9 376.4 L1329.4 383.9 L1329.9 392.4 L1330.4 401.4 L1330.9 410.6 L1331.4 419.9 L1331.9 428.8 L1332.4 436.9 L1332.9 444.2 L1333.4 450.2 L1333.9 454.8 L1334.4 457.8 L1334.9 459.1 L1335.4 458.7 L1335.9 456.7 L1336.4 453.0 L1336.9 447.9" stroke="#24775a" stroke-width="1.25" fill="none" stroke-linejoin="round"/></g><g mask="url(#wm3)"><rect x="814.5" y="562.5" width="329.2" height="173.6" fill="#000"/><path d="M814.5 575.7H1143.7 M814.5 722.3H1143.7 M814.5 583.6H1143.7 M814.5 714.4H1143.7 M814.5 590.7H1143.7 M814.5 707.3H1143.7 M814.5 602.7H1143.7 M814.5 695.3H1143.7 M814.5 616.2H1143.7 M814.5 681.8H1143.7 M814.5 626.1H1143.7 M814.5 671.9H1143.7 M814.5 632.5H1143.7 M814.5 665.5H1143.7 M814.5 642.5H1143.7 M814.5 655.5H1143.7" stroke="#021302" stroke-width="1.3" fill="none"/><path d="M900.5 562.5V736.1 M982.0 562.5V736.1 M1063.7 562.5V736.1" stroke="#022c02" stroke-width="1.3" fill="none"/><path d="M814.5 649.0H1143.7" stroke="#4c0000" stroke-width="1.3" fill="none"/><path d="M814.5 724.4 L815.0 729.7 L815.5 733.4 L816.0 735.6 L816.5 736.0 L817.0 734.8 L817.5 732.0 L818.0 727.6 L818.5 721.9 L819.0 715.1 L819.5 707.4 L820.0 699.2 L820.5 690.7 L821.0 682.2 L821.5 674.2 L822.0 666.8 L822.5 660.4 L823.0 655.1 L823.5 651.3 L824.0 649.0 L824.5 648.2 L825.0 649.1 L825.5 651.5 L826.0 655.5 L826.5 660.7 L827.0 667.0 L827.5 674.2 L828.0 682.0 L828.5 690.0 L829.0 697.9 L829.5 705.5 L830.0 712.4 L830.5 718.3 L831.0 723.0 L831.5 726.3 L832.0 728.1 L832.5 728.2 L833.0 726.6 L833.5 723.3 L834.0 718.5 L834.5 712.3 L835.0 704.9 L835.5 696.4 L836.0 687.3 L836.5 677.8 L837.0 668.3 L837.5 659.0 L838.0 650.2 L838.5 642.3 L839.0 635.5 L839.5 630.0 L840.0 626.0 L840.5 623.6 L841.0 622.8 L841.5 623.7 L842.0 626.1 L842.5 629.9 L843.0 634.9 L843.5 640.9 L844.0 647.7 L844.5 654.9 L845.0 662.2 L845.5 669.3 L846.0 675.8 L846.5 681.6 L847.0 686.3 L847.5 689.7 L848.0 691.6 L848.5 691.9 L849.0 690.6 L849.5 687.7 L850.0 683.2 L850.5 677.2 L851.0 669.9 L851.5 661.6 L852.0 652.4 L852.5 642.8 L853.0 633.0 L853.5 623.4 L854.0 614.2 L854.5 605.7 L855.0 598.3 L855.5 592.1 L856.0 587.4 L856.5 584.2 L857.0 582.7 L857.5 582.9 L858.0 584.7 L858.5 588.0 L859.0 592.7 L859.5 598.5 L860.0 605.2 L860.5 612.5 L861.0 620.1 L861.5 627.6 L862.0 634.9 L862.5 641.4 L863.0 647.1 L863.5 651.6 L864.0 654.7 L864.5 656.3 L865.0 656.3 L865.5 654.7 L866.0 651.5 L866.5 646.8 L867.0 640.8 L867.5 633.6 L868.0 625.6 L868.5 616.9 L869.0 607.9 L869.5 599.0 L870.0 590.3 L870.5 582.3 L871.0 575.3 L871.5 569.4 L872.0 564.9 L872.5 562.0 L873.0 560.7 L873.5 561.0 L874.0 563.1 L874.5 566.8 L875.0 571.9 L875.5 578.2 L876.0 585.6 L876.5 593.8 L877.0 602.3 L877.5 611.1 L878.0 619.6 L878.5 627.6 L879.0 634.9 L879.5 641.0 L880.0 646.0 L880.5 649.4 L881.0 651.3 L881.5 651.6 L882.0 650.3 L882.5 647.5 L883.0 643.2 L883.5 637.7 L884.0 631.2 L884.5 623.9 L885.0 616.2 L885.5 608.4 L886.0 600.7 L886.5 593.6 L887.0 587.2 L887.5 581.9 L888.0 577.8 L888.5 575.3 L889.0 574.3 L889.5 575.0 L890.0 577.4 L890.5 581.4 L891.0 587.0 L891.5 593.8 L892.0 601.8 L892.5 610.6 L893.0 620.1 L893.5 629.7 L894.0 639.3 L894.5 648.6 L895.0 657.1 L895.5 664.7 L896.0 671.1 L896.5 676.1 L897.0 679.6 L897.5 681.4 L898.0 681.6 L898.5 680.2 L899.0 677.3 L899.5 673.1 L900.0 667.7 L900.5 661.4 L901.0 654.4 L901.5 647.2 L902.0 640.0 L902.5 633.1 L903.0 626.8 L903.5 621.4 L904.0 617.2 L904.5 614.4 L905.0 613.0 L905.5 613.3 L906.0 615.2 L906.5 618.8 L907.0 623.8 L907.5 630.3 L908.0 638.0 L908.5 646.6 L909.0 655.9 L909.5 665.5 L910.0 675.3 L910.5 684.7 L911.0 693.6 L911.5 701.6 L912.0 708.4 L912.5 714.0 L913.0 718.0 L913.5 720.4 L914.0 721.1 L914.5 720.2 L915.0 717.7 L915.5 713.7 L916.0 708.4 L916.5 702.1 L917.0 694.9 L917.5 687.4 L918.0 679.6 L918.5 672.0 L919.0 664.8 L919.5 658.4 L920.0 653.0 L920.5 648.9 L921.0 646.2 L921.5 645.0 L922.0 645.4 L922.5 647.5 L923.0 651.1 L923.5 656.2 L924.0 662.5 L924.5 669.8 L925.0 678.0 L925.5 686.6 L926.0 695.4 L926.5 704.1 L927.0 712.3 L927.5 719.8 L928.0 726.2 L928.5 731.4 L929.0 735.1 L929.5 737.2 L930.0 737.6 L930.5 736.4 L931.0 733.5 L931.5 729.0 L932.0 723.2 L932.5 716.2 L933.0 708.3 L933.5 699.7 L934.0 690.9 L934.5 682.0 L935.0 673.4 L935.5 665.5 L936.0 658.4 L936.5 652.5 L937.0 648.0 L937.5 644.9 L938.0 643.4 L938.5 643.6 L939.0 645.3 L939.5 648.6 L940.0 653.2 L940.5 658.9 L941.0 665.6 L941.5 672.9 L942.0 680.5 L942.5 688.2 L943.0 695.5 L943.5 702.3 L944.0 708.1 L944.5 712.8 L945.0 716.2 L945.5 718.0 L946.0 718.1 L946.5 716.7 L947.0 713.5 L947.5 708.8 L948.0 702.6 L948.5 695.2 L949.0 686.7 L949.5 677.5 L950.0 667.9 L950.5 658.1 L951.0 648.5 L951.5 639.5 L952.0 631.2 L952.5 624.0 L953.0 618.0 L953.5 613.6 L954.0 610.7 L954.5 609.4 L955.0 609.8 L955.5 611.8 L956.0 615.2 L956.5 620.0 L957.0 625.7 L957.5 632.3 L958.0 639.4 L958.5 646.7 L959.0 653.8 L959.5 660.6 L960.0 666.5 L960.5 671.5 L961.0 675.3 L961.5 677.6 L962.0 678.3 L962.5 677.5 L963.0 675.0 L963.5 670.9 L964.0 665.3 L964.5 658.4 L965.0 650.4 L965.5 641.6 L966.0 632.2 L966.5 622.6 L967.0 613.1 L967.5 603.9 L968.0 595.5 L968.5 588.0 L969.0 581.7 L969.5 576.9 L970.0 573.6 L970.5 572.0 L971.0 572.1 L971.5 573.8 L972.0 577.1 L972.5 581.7 L973.0 587.6 L973.5 594.4 L974.0 601.9 L974.5 609.8 L975.0 617.7 L975.5 625.4 L976.0 632.4 L976.5 638.7 L977.0 643.8 L977.5 647.5 L978.0 649.9 L978.5 650.6 L979.0 649.7 L979.5 647.2 L980.0 643.2 L980.5 637.9 L981.0 631.3 L981.5 623.8 L982.0 615.6 L982.5 607.1 L983.0 598.5 L983.5 590.2 L984.0 582.4 L984.5 575.5 L985.0 569.8 L985.5 565.4 L986.0 562.5 L986.5 561.2 L987.0 561.6 L987.5 563.7 L988.0 567.4 L988.5 572.6 L989.0 579.1 L989.5 586.7 L990.0 595.1 L990.5 604.0 L991.0 613.1 L991.5 622.1 L992.0 630.6 L992.5 638.5 L993.0 645.3 L993.5 650.8 L994.0 655.0 L994.5 657.6 L995.0 658.6 L995.5 658.0 L996.0 655.9 L996.5 652.2 L997.0 647.3 L997.5 641.3 L998.0 634.5 L998.5 627.2 L999.0 619.6 L999.5 612.2 L1000.0 605.2 L1000.5 598.9 L1001.0 593.6 L1001.5 589.5 L1002.0 586.8 L1002.5 585.8 L1003.0 586.3 L1003.5 588.6 L1004.0 592.4 L1004.5 597.8 L1005.0 604.6 L1005.5 612.5 L1006.0 621.4 L1006.5 630.8 L1007.0 640.6 L1007.5 650.4 L1008.0 659.9 L1008.5 668.7 L1009.0 676.6 L1009.5 683.4 L1010.0 688.8 L1010.5 692.7 L1011.0 695.0 L1011.5 695.6 L1012.0 694.6 L1012.5 692.0 L1013.0 688.0 L1013.5 682.8 L1014.0 676.7 L1014.5 669.8 L1015.0 662.6 L1015.5 655.3 L1016.0 648.2 L1016.5 641.7 L1017.0 636.0 L1017.5 631.4 L1018.0 628.2 L1018.5 626.4 L1019.0 626.2 L1019.5 627.6 L1020.0 630.6 L1020.5 635.2 L1021.0 641.2 L1021.5 648.4 L1022.0 656.7 L1022.5 665.6 L1023.0 675.0 L1023.5 684.5 L1024.0 693.8 L1024.5 702.6 L1025.0 710.6 L1025.5 717.5 L1026.0 723.0 L1026.5 727.1 L1027.0 729.6 L1027.5 730.4 L1028.0 729.5 L1028.5 727.0 L1029.0 723.0 L1029.5 717.7 L1030.0 711.2 L1030.5 703.9 L1031.0 696.1 L1031.5 687.9 L1032.0 679.9 L1032.5 672.3 L1033.0 665.3 L1033.5 659.3 L1034.0 654.5 L1034.5 651.1 L1035.0 649.2 L1035.5 648.9 L1036.0 650.2 L1036.5 653.1 L1037.0 657.4 L1037.5 663.1 L1038.0 669.8 L1038.5 677.4 L1039.0 685.6 L1039.5 694.0 L1040.0 702.3 L1040.5 710.2 L1041.0 717.5 L1041.5 723.8 L1042.0 728.8 L1042.5 732.5 L1043.0 734.5 L1043.5 734.9 L1044.0 733.7 L1044.5 730.7 L1045.0 726.2 L1045.5 720.3 L1046.0 713.2 L1046.5 705.1 L1047.0 696.2 L1047.5 687.1 L1048.0 677.8 L1048.5 668.8 L1049.0 660.3 L1049.5 652.7 L1050.0 646.2 L1050.5 641.0 L1051.0 637.2 L1051.5 635.1 L1052.0 634.6 L1052.5 635.6 L1053.0 638.3 L1053.5 642.3 L1054.0 647.5 L1054.5 653.7 L1055.0 660.7 L1055.5 668.0 L1056.0 675.4 L1056.5 682.6 L1057.0 689.3 L1057.5 695.2 L1058.0 699.9 L1058.5 703.4 L1059.0 705.3 L1059.5 705.7 L1060.0 704.4 L1060.5 701.5 L1061.0 696.9 L1061.5 690.9 L1062.0 683.6 L1062.5 675.3 L1063.0 666.1 L1063.5 656.5 L1064.0 646.6 L1064.5 636.9 L1065.0 627.6 L1065.5 619.1 L1066.0 611.6 L1066.5 605.3 L1067.0 600.5 L1067.5 597.3 L1068.0 595.7 L1068.5 595.7 L1069.0 597.4 L1069.5 600.6 L1070.0 605.1 L1070.5 610.8 L1071.0 617.3 L1071.5 624.4 L1072.0 631.7 L1072.5 639.1 L1073.0 646.0 L1073.5 652.3 L1074.0 657.7 L1074.5 661.9 L1075.0 664.7 L1075.5 666.0 L1076.0 665.7 L1076.5 663.8 L1077.0 660.2 L1077.5 655.2 L1078.0 648.8 L1078.5 641.3 L1079.0 632.9 L1079.5 623.9 L1080.0 614.5 L1080.5 605.2 L1081.0 596.2 L1081.5 587.9 L1082.0 580.5 L1082.5 574.3 L1083.0 569.4 L1083.5 566.1 L1084.0 564.5 L1084.5 564.5 L1085.0 566.2 L1085.5 569.5 L1086.0 574.2 L1086.5 580.2 L1087.0 587.2 L1087.5 595.0 L1088.0 603.2 L1088.5 611.5 L1089.0 619.6 L1089.5 627.2 L1090.0 634.0 L1090.5 639.8 L1091.0 644.3 L1091.5 647.3 L1092.0 648.8 L1092.5 648.7 L1093.0 646.9 L1093.5 643.7 L1094.0 639.0 L1094.5 633.1 L1095.0 626.2 L1095.5 618.5 L1096.0 610.4 L1096.5 602.2 L1097.0 594.2 L1097.5 586.7 L1098.0 580.0 L1098.5 574.4 L1099.0 570.0 L1099.5 567.2 L1100.0 565.9 L1100.5 566.3 L1101.0 568.5 L1101.5 572.2 L1102.0 577.4 L1102.5 584.0 L1103.0 591.8 L1103.5 600.4 L1104.0 609.5 L1104.5 618.9 L1105.0 628.3 L1105.5 637.3 L1106.0 645.6 L1106.5 653.0 L1107.0 659.1 L1107.5 663.9 L1108.0 667.2 L1108.5 668.8 L1109.0 668.8 L1109.5 667.2 L1110.0 664.2 L1110.5 659.8 L1111.0 654.2 L1111.5 647.8 L1112.0 640.7 L1112.5 633.4 L1113.0 626.1 L1113.5 619.2 L1114.0 612.9 L1114.5 607.5 L1115.0 603.3 L1115.5 600.4 L1116.0 599.1 L1116.5 599.4 L1117.0 601.4 L1117.5 605.0 L1118.0 610.2 L1118.5 616.7 L1119.0 624.5 L1119.5 633.2 L1120.0 642.6 L1120.5 652.3 L1121.0 662.2 L1121.5 671.7 L1122.0 680.7 L1122.5 688.9 L1123.0 695.9 L1123.5 701.5 L1124.0 705.7 L1124.5 708.3 L1125.0 709.1 L1125.5 708.4 L1126.0 706.0 L1126.5 702.2 L1127.0 697.2 L1127.5 691.1 L1128.0 684.2 L1128.5 676.9 L1129.0 669.4 L1129.5 662.1 L1130.0 655.2 L1130.5 649.1 L1131.0 644.1 L1131.5 640.3 L1132.0 637.9 L1132.5 637.1 L1133.0 637.9 L1133.5 640.3 L1134.0 644.3 L1134.5 649.8 L1135.0 656.5 L1135.5 664.2 L1136.0 672.7 L1136.5 681.7 L1137.0 690.9 L1137.5 700.0 L1138.0 708.6 L1138.5 716.4 L1139.0 723.2 L1139.5 728.7 L1140.0 732.8 L1140.5 735.3 L1141.0 736.1 L1141.5 735.2 L1142.0 732.7 L1142.5 728.6 L1143.0 723.2 L1143.5 716.5" stroke="#24775a" stroke-width="1.25" fill="none" stroke-linejoin="round"/></g><g mask="url(#wm4)"><rect x="1199.2" y="563.5" width="316.8" height="171.8" fill="#000"/><path d="M1199.2 643.7H1516.0 M1199.2 657.7H1516.0 M1199.2 636.8H1516.0 M1199.2 664.6H1516.0 M1199.2 623.0H1516.0 M1199.2 678.4H1516.0 M1199.2 611.3H1516.0 M1199.2 690.1H1516.0 M1199.2 595.4H1516.0 M1199.2 706.0H1516.0" stroke="#021302" stroke-width="1.3" fill="none"/><path d="M1277.5 563.5V735.3 M1358.5 563.5V735.3 M1439.7 563.5V735.3" stroke="#022c02" stroke-width="1.3" fill="none"/><path d="M1199.2 650.7H1516.0" stroke="#4c0000" stroke-width="1.3" fill="none"/><path d="M1199.2 729.0 L1199.7 728.7 L1200.2 728.4 L1200.7 728.0 L1201.2 727.5 L1201.7 726.9 L1202.2 726.3 L1202.7 725.7 L1203.2 724.9 L1203.7 724.1 L1204.2 723.3 L1204.7 722.3 L1205.2 721.3 L1205.7 720.3 L1206.2 719.2 L1206.7 718.0 L1207.2 716.8 L1207.7 715.6 L1208.2 714.2 L1208.7 712.8 L1209.2 711.4 L1209.7 709.9 L1210.2 708.4 L1210.7 706.8 L1211.2 705.2 L1211.7 703.5 L1212.2 701.7 L1212.7 700.0 L1213.2 698.2 L1213.7 696.3 L1214.2 694.4 L1214.7 692.5 L1215.2 690.5 L1215.7 688.5 L1216.2 686.5 L1216.7 684.5 L1217.2 682.4 L1217.7 680.3 L1218.2 678.1 L1218.7 675.9 L1219.2 673.8 L1219.7 671.6 L1220.2 669.3 L1220.7 667.1 L1221.2 664.9 L1221.7 662.6 L1222.2 660.3 L1222.7 658.0 L1223.2 655.7 L1223.7 653.5 L1224.2 651.2 L1224.7 648.9 L1225.2 646.6 L1225.7 644.3 L1226.2 642.0 L1226.7 639.7 L1227.2 637.5 L1227.7 635.2 L1228.2 633.0 L1228.7 630.7 L1229.2 628.5 L1229.7 626.3 L1230.2 624.1 L1230.7 622.0 L1231.2 619.9 L1231.7 617.8 L1232.2 615.7 L1232.7 613.7 L1233.2 611.7 L1233.7 609.7 L1234.2 607.7 L1234.7 605.8 L1235.2 604.0 L1235.7 602.1 L1236.2 600.4 L1236.7 598.6 L1237.2 596.9 L1237.7 595.3 L1238.2 593.7 L1238.7 592.1 L1239.2 590.6 L1239.7 589.1 L1240.2 587.7 L1240.7 586.4 L1241.2 585.1 L1241.7 583.8 L1242.2 582.7 L1242.7 581.5 L1243.2 580.5 L1243.7 579.5 L1244.2 578.5 L1244.7 577.6 L1245.2 576.8 L1245.7 576.0 L1246.2 575.3 L1246.7 574.7 L1247.2 574.1 L1247.7 573.6 L1248.2 573.2 L1248.7 572.8 L1249.2 572.5 L1249.7 572.3 L1250.2 572.1 L1250.7 572.0 L1251.2 572.0 L1251.7 572.0 L1252.2 572.1 L1252.7 572.2 L1253.2 572.5 L1253.7 572.8 L1254.2 573.1 L1254.7 573.5 L1255.2 574.0 L1255.7 574.6 L1256.2 575.2 L1256.7 575.9 L1257.2 576.6 L1257.7 577.4 L1258.2 578.3 L1258.7 579.3 L1259.2 580.3 L1259.7 581.3 L1260.2 582.4 L1260.7 583.6 L1261.2 584.8 L1261.7 586.1 L1262.2 587.5 L1262.7 588.8 L1263.2 590.3 L1263.7 591.8 L1264.2 593.3 L1264.7 594.9 L1265.2 596.6 L1265.7 598.3 L1266.2 600.0 L1266.7 601.8 L1267.2 603.6 L1267.7 605.5 L1268.2 607.4 L1268.7 609.3 L1269.2 611.3 L1269.7 613.3 L1270.2 615.3 L1270.7 617.4 L1271.2 619.5 L1271.7 621.6 L1272.2 623.7 L1272.7 625.9 L1273.2 628.1 L1273.7 630.3 L1274.2 632.5 L1274.7 634.7 L1275.2 637.0 L1275.7 639.3 L1276.2 641.5 L1276.7 643.8 L1277.2 646.1 L1277.7 648.4 L1278.2 650.7 L1278.7 653.0 L1279.2 655.3 L1279.7 657.6 L1280.2 659.9 L1280.7 662.1 L1281.2 664.4 L1281.7 666.7 L1282.2 668.9 L1282.7 671.1 L1283.2 673.3 L1283.7 675.5 L1284.2 677.7 L1284.7 679.8 L1285.2 681.9 L1285.7 684.0 L1286.2 686.1 L1286.7 688.1 L1287.2 690.1 L1287.7 692.1 L1288.2 694.0 L1288.7 695.9 L1289.2 697.8 L1289.7 699.6 L1290.2 701.4 L1290.7 703.1 L1291.2 704.8 L1291.7 706.5 L1292.2 708.1 L1292.7 709.6 L1293.2 711.1 L1293.7 712.6 L1294.2 713.9 L1294.7 715.3 L1295.2 716.6 L1295.7 717.8 L1296.2 719.0 L1296.7 720.1 L1297.2 721.1 L1297.7 722.1 L1298.2 723.1 L1298.7 724.0 L1299.2 724.8 L1299.7 725.5 L1300.2 726.2 L1300.7 726.8 L1301.2 727.4 L1301.7 727.9 L1302.2 728.3 L1302.7 728.6 L1303.2 728.9 L1303.7 729.2 L1304.2 729.3 L1304.7 729.4 L1305.2 729.4 L1305.7 729.4 L1306.2 729.3 L1306.7 729.1 L1307.2 728.9 L1307.7 728.6 L1308.2 728.2 L1308.7 727.8 L1309.2 727.3 L1309.7 726.7 L1310.2 726.1 L1310.7 725.4 L1311.2 724.6 L1311.7 723.8 L1312.2 722.9 L1312.7 721.9 L1313.2 720.9 L1313.7 719.9 L1314.2 718.7 L1314.7 717.6 L1315.2 716.3 L1315.7 715.0 L1316.2 713.7 L1316.7 712.3 L1317.2 710.8 L1317.7 709.3 L1318.2 707.7 L1318.7 706.1 L1319.2 704.5 L1319.7 702.8 L1320.2 701.0 L1320.7 699.3 L1321.2 697.4 L1321.7 695.6 L1322.2 693.7 L1322.7 691.7 L1323.2 689.7 L1323.7 687.7 L1324.2 685.7 L1324.7 683.6 L1325.2 681.5 L1325.7 679.4 L1326.2 677.3 L1326.7 675.1 L1327.2 672.9 L1327.7 670.7 L1328.2 668.4 L1328.7 666.2 L1329.2 663.9 L1329.7 661.7 L1330.2 659.4 L1330.7 657.1 L1331.2 654.8 L1331.7 652.5 L1332.2 650.2 L1332.7 647.9 L1333.2 645.7 L1333.7 643.4 L1334.2 641.1 L1334.7 638.8 L1335.2 636.5 L1335.7 634.3 L1336.2 632.1 L1336.7 629.8 L1337.2 627.6 L1337.7 625.5 L1338.2 623.3 L1338.7 621.1 L1339.2 619.0 L1339.7 616.9 L1340.2 614.9 L1340.7 612.9 L1341.2 610.9 L1341.7 608.9 L1342.2 607.0 L1342.7 605.1 L1343.2 603.2 L1343.7 601.4 L1344.2 599.7 L1344.7 597.9 L1345.2 596.2 L1345.7 594.6 L1346.2 593.0 L1346.7 591.5 L1347.2 590.0 L1347.7 588.6 L1348.2 587.2 L1348.7 585.8 L1349.2 584.6 L1349.7 583.4 L1350.2 582.2 L1350.7 581.1 L1351.2 580.1 L1351.7 579.1 L1352.2 578.1 L1352.7 577.3 L1353.2 576.5 L1353.7 575.7 L1354.2 575.1 L1354.7 574.5 L1355.2 573.9 L1355.7 573.4 L1356.2 573.0 L1356.7 572.7 L1357.2 572.4 L1357.7 572.2 L1358.2 572.0 L1358.7 572.0 L1359.2 572.0 L1359.7 572.0 L1360.2 572.1 L1360.7 572.3 L1361.2 572.6 L1361.7 572.9 L1362.2 573.3 L1362.7 573.7 L1363.2 574.2 L1363.7 574.8 L1364.2 575.5 L1364.7 576.2 L1365.2 577.0 L1365.7 577.8 L1366.2 578.7 L1366.7 579.6 L1367.2 580.7 L1367.7 581.7 L1368.2 582.9 L1368.7 584.1 L1369.2 585.3 L1369.7 586.6 L1370.2 588.0 L1370.7 589.4 L1371.2 590.9 L1371.7 592.4 L1372.2 594.0 L1372.7 595.6 L1373.2 597.2 L1373.7 599.0 L1374.2 600.7 L1374.7 602.5 L1375.2 604.3 L1375.7 606.2 L1376.2 608.1 L1376.7 610.1 L1377.2 612.1 L1377.7 614.1 L1378.2 616.1 L1378.7 618.2 L1379.2 620.3 L1379.7 622.4 L1380.2 624.6 L1380.7 626.8 L1381.2 629.0 L1381.7 631.2 L1382.2 633.4 L1382.7 635.6 L1383.2 637.9 L1383.7 640.2 L1384.2 642.5 L1384.7 644.7 L1385.2 647.0 L1385.7 649.3 L1386.2 651.6 L1386.7 653.9 L1387.2 656.2 L1387.7 658.5 L1388.2 660.8 L1388.7 663.0 L1389.2 665.3 L1389.7 667.6 L1390.2 669.8 L1390.7 672.0 L1391.2 674.2 L1391.7 676.4 L1392.2 678.5 L1392.7 680.7 L1393.2 682.8 L1393.7 684.9 L1394.2 686.9 L1394.7 688.9 L1395.2 690.9 L1395.7 692.9 L1396.2 694.8 L1396.7 696.7 L1397.2 698.5 L1397.7 700.3 L1398.2 702.1 L1398.7 703.8 L1399.2 705.5 L1399.7 707.1 L1400.2 708.7 L1400.7 710.2 L1401.2 711.7 L1401.7 713.1 L1402.2 714.5 L1402.7 715.8 L1403.2 717.1 L1403.7 718.3 L1404.2 719.4 L1404.7 720.5 L1405.2 721.6 L1405.7 722.5 L1406.2 723.4 L1406.7 724.3 L1407.2 725.1 L1407.7 725.8 L1408.2 726.5 L1408.7 727.0 L1409.2 727.6 L1409.7 728.0 L1410.2 728.4 L1410.7 728.8 L1411.2 729.0 L1411.7 729.2 L1412.2 729.4 L1412.7 729.4 L1413.2 729.4 L1413.7 729.4 L1414.2 729.2 L1414.7 729.0 L1415.2 728.8 L1415.7 728.4 L1416.2 728.0 L1416.7 727.6 L1417.2 727.0 L1417.7 726.5 L1418.2 725.8 L1418.7 725.1 L1419.2 724.3 L1419.7 723.4 L1420.2 722.5 L1420.7 721.6 L1421.2 720.5 L1421.7 719.4 L1422.2 718.3 L1422.7 717.1 L1423.2 715.8 L1423.7 714.5 L1424.2 713.1 L1424.7 711.7 L1425.2 710.2 L1425.7 708.7 L1426.2 707.1 L1426.7 705.5 L1427.2 703.8 L1427.7 702.1 L1428.2 700.3 L1428.7 698.5 L1429.2 696.7 L1429.7 694.8 L1430.2 692.9 L1430.7 690.9 L1431.2 688.9 L1431.7 686.9 L1432.2 684.9 L1432.7 682.8 L1433.2 680.7 L1433.7 678.5 L1434.2 676.4 L1434.7 674.2 L1435.2 672.0 L1435.7 669.8 L1436.2 667.6 L1436.7 665.3 L1437.2 663.0 L1437.7 660.8 L1438.2 658.5 L1438.7 656.2 L1439.2 653.9 L1439.7 651.6 L1440.2 649.3 L1440.7 647.0 L1441.2 644.7 L1441.7 642.5 L1442.2 640.2 L1442.7 637.9 L1443.2 635.6 L1443.7 633.4 L1444.2 631.2 L1444.7 629.0 L1445.2 626.8 L1445.7 624.6 L1446.2 622.4 L1446.7 620.3 L1447.2 618.2 L1447.7 616.1 L1448.2 614.1 L1448.7 612.1 L1449.2 610.1 L1449.7 608.1 L1450.2 606.2 L1450.7 604.3 L1451.2 602.5 L1451.7 600.7 L1452.2 599.0 L1452.7 597.2 L1453.2 595.6 L1453.7 594.0 L1454.2 592.4 L1454.7 590.9 L1455.2 589.4 L1455.7 588.0 L1456.2 586.6 L1456.7 585.3 L1457.2 584.1 L1457.7 582.9 L1458.2 581.7 L1458.7 580.7 L1459.2 579.6 L1459.7 578.7 L1460.2 577.8 L1460.7 577.0 L1461.2 576.2 L1461.7 575.5 L1462.2 574.8 L1462.7 574.2 L1463.2 573.7 L1463.7 573.3 L1464.2 572.9 L1464.7 572.6 L1465.2 572.3 L1465.7 572.1 L1466.2 572.0 L1466.7 572.0 L1467.2 572.0 L1467.7 572.0 L1468.2 572.2 L1468.7 572.4 L1469.2 572.7 L1469.7 573.0 L1470.2 573.4 L1470.7 573.9 L1471.2 574.5 L1471.7 575.1 L1472.2 575.7 L1472.7 576.5 L1473.2 577.3 L1473.7 578.1 L1474.2 579.1 L1474.7 580.1 L1475.2 581.1 L1475.7 582.2 L1476.2 583.4 L1476.7 584.6 L1477.2 585.8 L1477.7 587.2 L1478.2 588.6 L1478.7 590.0 L1479.2 591.5 L1479.7 593.0 L1480.2 594.6 L1480.7 596.2 L1481.2 597.9 L1481.7 599.7 L1482.2 601.4 L1482.7 603.2 L1483.2 605.1 L1483.7 607.0 L1484.2 608.9 L1484.7 610.9 L1485.2 612.9 L1485.7 614.9 L1486.2 616.9 L1486.7 619.0 L1487.2 621.1 L1487.7 623.3 L1488.2 625.5 L1488.7 627.6 L1489.2 629.8 L1489.7 632.1 L1490.2 634.3 L1490.7 636.5 L1491.2 638.8 L1491.7 641.1 L1492.2 643.4 L1492.7 645.7 L1493.2 647.9 L1493.7 650.2 L1494.2 652.5 L1494.7 654.8 L1495.2 657.1 L1495.7 659.4 L1496.2 661.7 L1496.7 663.9 L1497.2 666.2 L1497.7 668.4 L1498.2 670.7 L1498.7 672.9 L1499.2 675.1 L1499.7 677.3 L1500.2 679.4 L1500.7 681.5 L1501.2 683.6 L1501.7 685.7 L1502.2 687.7 L1502.7 689.7 L1503.2 691.7 L1503.7 693.7 L1504.2 695.6 L1504.7 697.4 L1505.2 699.3 L1505.7 701.0 L1506.2 702.8 L1506.7 704.5 L1507.2 706.1 L1507.7 707.7 L1508.2 709.3 L1508.7 710.8 L1509.2 712.3 L1509.7 713.7 L1510.2 715.0 L1510.7 716.3 L1511.2 717.6 L1511.7 718.7 L1512.2 719.9 L1512.7 720.9 L1513.2 721.9 L1513.7 722.9 L1514.2 723.8 L1514.7 724.6 L1515.2 725.4 L1515.7 726.1" stroke="#24775a" stroke-width="1.25" fill="none" stroke-linejoin="round"/></g>
<g filter="url(#soft)">
 <!-- lower body -->
 <path d="M942.8 531 V548.6 Q943 556.2 957 559.9 Q973.6 563.6 990.2 559.9 Q1004.2 556.2 1004.4 548.6 V531Z" fill="url(#gBody)"/>
 <path d="M942.8 531 V548.6 Q943 556.2 957 559.9 Q973.6 563.6 990.2 559.9 Q1004.2 556.2 1004.4 548.6 V531Z" fill="url(#gBodyV)"/>
 <ellipse cx="967.3" cy="538.7" rx="1.5" ry=".9" fill="#3d62a0"/>
 <!-- flange -->
 <path d="M933.7 524.4 A39.55 4.9 0 0 1 1012.8 524.4 V532.0 A39.55 5.6 0 0 1 933.7 532.0Z" fill="url(#gRim)"/>
 <ellipse cx="973.25" cy="524.4" rx="39.55" ry="4.9" fill="url(#gTop)"/>
 <path d="M934.4 525.6 A39 4.9 0 0 0 1012.1 525.6" fill="none" stroke="#cfd1d2" stroke-width=".9" opacity=".8"/>
 <ellipse cx="971" cy="524.6" rx="25" ry="3.3" fill="#9c9fa2" stroke="#85888b" stroke-width=".6"/>
 <!-- neck -->
 <path d="M962.9 512.5 L962.2 523.6 Q968 526 974.6 524.2 L975 512.5Z" fill="url(#gNeck)"/>
 <path d="M981.2 514.6 L986.2 521.8" stroke="#d3d5d7" stroke-width="1" fill="none"/>
 <!-- cylinder -->
 <path d="M953.9 457.6 V512.4 Q954 514.9 972.65 514.9 Q991.3 514.9 991.4 512.4 V457.6Z" fill="url(#gCyl)"/>
 <path d="M953.9 457.6 V512.4 Q954 514.9 972.65 514.9 Q991.3 514.9 991.4 512.4 V457.6Z" fill="url(#gCylV)"/>
 <ellipse cx="972.65" cy="457.7" rx="18.75" ry="2.2" fill="url(#gCylTop)"/>
 <!-- logo -->
 <g fill="#2d5ea4">
  <path d="M981.2 472.0 Q976.6 475.4 973.4 477.2 L969.0 476.6 Q967.2 477.6 966.4 479.0 L971.0 479.8 Q968.6 485.0 966.2 489.6 L967.4 490.2 Q971.2 485.6 973.8 481.2 L976.4 482.6 L976.6 480.8 L974.8 479.2 Q978.6 475.6 981.2 472.0Z"/>
  <rect x="969.6" y="489.7" width="12" height="2.2" opacity=".8"/>
 </g>
 <ellipse cx="967.6" cy="478.4" rx="3.4" ry="2.2" fill="none" stroke="#2d5ea4" stroke-width=".7" opacity=".7"/>
 <ellipse cx="978.4" cy="486.2" rx="3.2" ry="2" fill="none" stroke="#2d5ea4" stroke-width=".7" opacity=".7"/>
 <circle cx="975.3" cy="473.2" r=".8" fill="#c8283a"/>
</g>
<g filter="url(#soft)">
 <!-- front side -->
 <path d="M1354.6 522 L1354.9 526.4 Q1355.2 527.4 1356.6 528.6 L1369.6 539.6 Q1370.6 540.4 1372 540.4 H1421 Q1422.6 540.4 1423.6 539.2 L1434.2 527.2 Q1435.2 526 1435.3 524.6 L1435.3 521Z" fill="url(#gSide)"/>
 <path d="M1354.6 522 L1354.9 526.4 Q1355.2 527.4 1356.6 528.6 L1369.6 539.6 Q1370.6 540.4 1372 540.4 H1421 Q1422.6 540.4 1423.6 539.2 L1434.2 527.2 Q1435.2 526 1435.3 524.6 L1435.3 521Z" fill="url(#gSideH)"/>
 <path d="M1360.6 532.4 L1430.2 531.4" stroke="#9b9d99" stroke-width=".8" fill="none"/>
 <!-- connector -->
 <rect x="1391.9" y="535.0" width="8.9" height="13.9" rx="2.4" fill="url(#gConn)"/>
 <rect x="1391.9" y="535.2" width="8.9" height="1.8" rx=".8" fill="#3e3c38"/>
 <path d="M1392 541.2H1400.8M1392 545H1400.8" stroke="#5a5852" stroke-width=".9" opacity=".7"/>
 <!-- top face -->
 <path d="M1369.6 470.8 Q1366.0 471.0 1365.3 474.4 L1354.8 521.4 Q1354.0 525.6 1358.4 525.5 L1431.4 523.6 Q1435.8 523.4 1435.2 519.4 L1426.4 471.2 Q1425.8 467.7 1422.0 467.9Z" fill="url(#gFace)"/>
 <g fill="#d2d4cc" stroke="#777972" stroke-width=".7">
  <circle cx="1368.4" cy="472.8" r="2.3"/><circle cx="1421.9" cy="471.0" r="2.3"/>
  <circle cx="1360.2" cy="522.0" r="3.0"/><circle cx="1429.4" cy="521.2" r="3.0"/>
 </g>
 <g fill="#8e8a7c"><circle cx="1368.5" cy="473.0" r="1.1"/><circle cx="1422" cy="471.2" r="1.1"/><circle cx="1360.5" cy="522.4" r="1.6"/><circle cx="1429.7" cy="521.6" r="1.6"/></g>
 <g fill="#3a3834"><circle cx="1360.8" cy="522.6" r=".55"/><circle cx="1430" cy="521.8" r=".55"/></g>
</g>
<g fill="#4f81bd">
 <path d="M1071.2 467.2 L1091.7 481.3 L1054.9 536.2 L1065.5 542.6 L1030.1 549.7 L1023.0 514.6 L1033.6 522.1Z"/>
 <path d="M1265.6 468.2 L1247.4 483.6 L1289.0 536.2 L1279.4 542.4 L1315.7 545.8 L1318.8 510.6 L1309.0 517.8Z"/>
 <path d="M947 748.9 H972.9 V816 H985.5 L959.6 841.6 L934.2 816 H947Z"/>
 <path d="M1352.1 747.1 H1377.7 V812.9 H1390.2 L1365 838.3 L1339.6 812.9 H1352.1Z"/>
</g>
<text x="101.53" y="123.70" fill="#404040" font-size="62.6" letter-spacing="4.1" font-family="&quot;Liberation Sans&quot;,&quot;Noto Sans CJK SC&quot;,sans-serif">三维声敏传感器技术优势</text>
<text class="st" x="1051.19" y="282.70">某种真实声音</text>
<text class="st" x="713.50" y="501.00">三维声敏拾音</text>
<text class="st" y="546.00"><tspan x="714.05">技术</tspan><tspan x="797.72">采集</tspan></text>
<text class="st" x="1457.25" y="494.50">振动技术</text>
<text class="st" x="1493.38" y="539.50">采集</text>
<text class="st" x="639.50" y="653.50">可采集到</text>
<text class="st" x="627.72" y="698.50">原始声音</text>
<text class="st" x="627.83" y="742.70">信号</text>
<text class="st" x="1563.44" y="657.00">仅采集到</text>
<text class="st" x="1537.38" y="702.00">低频振动信号</text>
<text class="st" y="805.60"><tspan class="la" x="792.45">A</tspan><tspan class="la" x="814.05">I</tspan><tspan x="823.46">声音</tspan></text>
<text class="st" x="792.47" y="850.60">分析</text>
<text class="st" x="885.65" y="885.00">不触发报警</text>
<text class="st" y="787.80"><tspan class="la" x="1402.35">A</tspan><tspan class="la" x="1423.95">I</tspan><tspan class="la" x="1433.36">/</tspan><tspan x="1447.78">传统振动信号</tspan></text>
<text class="st" x="1402.27" y="832.50">分析</text>
<text class="st" x="1321.02" y="884.80">触发报警</text>
<text class="st" y="929.20"><tspan x="1317.88">（</tspan><tspan x="1358.72">误报</tspan><tspan x="1439.40">）</tspan></text>
<text class="st" x="74.33" y="719.00">常规低频振动报警信号特征</text>
<text y="1048.30" fill="#000" font-size="37.33" font-weight="bold" font-family="&quot;Liberation Sans&quot;,&quot;Noto Sans CJK SC&quot;,sans-serif"><tspan x="167.72">前端采集的信号特征丰富，可以为后端信号分析部分提供更多参量，大大提高系统的准确性</tspan><tspan x="1664.92">!</tspan></text>
</svg>
<div class="t l" style="left:105.6px;top:68.6px;font-size:62.60px;width:727.2px">三维声敏传感器技术优势</div>
<div class="t s" style="left:1052.2px;top:250.5px;font-size:36.58px;width:224.4px">某种真实声音</div>
<div class="t s" style="left:715.0px;top:468.8px;font-size:36.58px;width:223.9px">三维声敏拾音</div>
<div class="t s" style="left:715.0px;top:513.8px;font-size:36.58px;width:159.6px">技术 采集</div>
<div class="t s" style="left:1458.2px;top:462.3px;font-size:36.58px;width:150.6px">振动技术</div>
<div class="t s" style="left:1494.8px;top:507.3px;font-size:36.58px;width:75.5px">采集</div>
<div class="t s" style="left:641.0px;top:621.3px;font-size:36.58px;width:149.1px"> 可采集到</div>
<div class="t s" style="left:629.0px;top:666.3px;font-size:36.58px;width:149.5px">原始声音</div>
<div class="t s" style="left:629.0px;top:710.5px;font-size:36.58px;width:75.2px">信号</div>
<div class="t s" style="left:1564.7px;top:624.8px;font-size:36.58px;width:149.4px">仅采集到</div>
<div class="t s" style="left:1538.5px;top:669.8px;font-size:36.58px;width:224.6px">低频振动信号</div>
<div class="t s" style="left:792.6px;top:773.4px;font-size:36.58px;width:106.9px">AI声音</div>
<div class="t s" style="left:793.6px;top:818.4px;font-size:36.58px;width:75.4px">分析</div>
<div class="t s" style="left:886.9px;top:852.8px;font-size:36.58px;width:187.3px">不触发报警</div>
<div class="t s" style="left:1402.5px;top:755.6px;font-size:36.58px;width:271.0px">AI/传统振动信号</div>
<div class="t s" style="left:1403.4px;top:800.3px;font-size:36.58px;width:75.4px">分析</div>
<div class="t s" style="left:1322.5px;top:852.6px;font-size:36.58px;width:149.8px">触发报警</div>
<div class="t s" style="left:1360.0px;top:897.0px;font-size:36.58px;width:74.7px">（误报）</div>
<div class="t s" style="left:76.3px;top:686.8px;font-size:36.58px;width:448.3px">常规低频振动报警信号特征</div>
<div class="t b" style="left:169.4px;top:1015.4px;font-size:37.33px;width:1509.8px">前端采集的信号特征丰富，可以为后端信号分析部分提供更多参量，大大提高系统的准确性!</div>
</body></html>
